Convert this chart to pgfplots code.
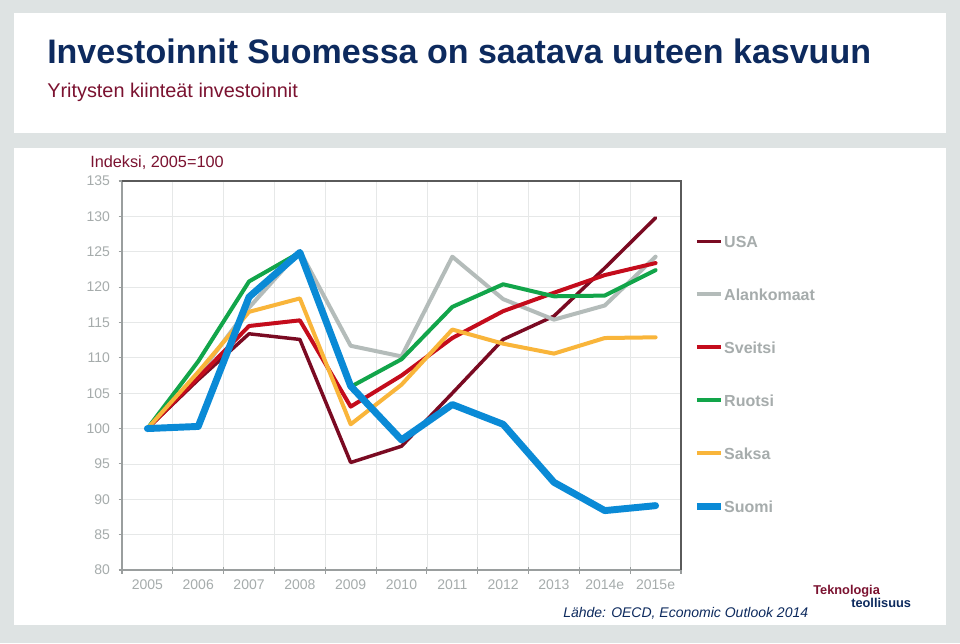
\documentclass[border=0pt]{standalone}
\usepackage{fontspec}
\setmainfont{Liberation Sans}
\usepackage{pgfplots}
\pgfplotsset{compat=1.18}

\definecolor{bgc}{HTML}{DEE3E3}
\definecolor{navy}{HTML}{0D2A5E}
\definecolor{maroon}{HTML}{7B1230}
\definecolor{tickc}{HTML}{A6ACAC}
\definecolor{gridc}{HTML}{E6E8E8}
\definecolor{axisc}{HTML}{9A9E9E}
\definecolor{topc}{HTML}{5A5A5A}
\definecolor{cusa}{HTML}{7A0A22}
\definecolor{cned}{HTML}{B4BCBA}
\definecolor{csui}{HTML}{C40C1C}
\definecolor{cswe}{HTML}{12A54A}
\definecolor{cger}{HTML}{F9B53A}
\definecolor{cfin}{HTML}{0A8AD6}

\begin{document}
\begin{tikzpicture}
% page: 960x643 px, 1px = 0.75pt
\fill[bgc] (0,0) rectangle (720pt,-482.25pt);
\useasboundingbox (0,0) rectangle (720pt,-482.25pt);
\fill[white] (10.5pt,-9.75pt) rectangle (709.5pt,-99.75pt);
\fill[white] (10.5pt,-111pt) rectangle (709.5pt,-468.75pt);

\begin{axis}[
    at={(91.5pt,-427.5pt)}, anchor=south west,
    scale only axis, width=419.25pt, height=291.75pt,
    xmin=-0.5, xmax=10.5, ymin=80, ymax=135,
    xtick={0,...,10},
    xticklabels={2005,2006,2007,2008,2009,2010,2011,2012,2013,2014e,2015e},
    minor xtick={-0.5,0.5,...,10.5},
    ytick={80,85,...,135},
    ymajorgrids=true, xminorgrids=true,
    grid style={draw=gridc, line width=0.6pt},
    minor grid style={draw=gridc, line width=0.6pt},
    tick pos=left, tick align=outside,
    major tick length=2.5pt, minor tick length=5.25pt,
    major x tick style={draw=none},
    minor x tick style={draw=axisc, line width=0.8pt, yshift=2.5pt},
    y tick style={draw=axisc, line width=0.8pt},
    axis line style={draw=axisc, line width=0.8pt},
    /pgf/number format/assume math mode=true,
    tick label style={font=\fontsize{10.5pt}{12pt}\selectfont, text=tickc},
    yticklabel style={xshift=-3pt},
    xticklabel style={yshift=-1pt},
    extra description/.code={\draw[topc, line width=1.1pt] (0,1) -- (1,1) -- (1,0);},
    legend cell align=left,
    legend image code/.code={\draw[#1, line cap=butt] (0pt,0pt) -- (18pt,0pt);},
    legend style={
        at={(1.0215,0.504)}, anchor=west,
        draw=none, fill=none, inner sep=0pt,
        font=\fontsize{12pt}{14pt}\selectfont\bfseries, text=tickc,
        nodes={inner sep=0pt, text height=9pt, text depth=0pt},
        row sep=30.75pt,
        /tikz/every odd column/.append style={column sep=0pt},
    },
    every axis plot/.append style={line join=round, line cap=round},
]
\addplot[color=cusa, line width=2.6pt] coordinates {
    (0,100) (1,106.9) (2,113.4) (3,112.6) (4,95.2) (5,97.5)
    (6,105.0) (7,112.6) (8,115.9) (9,122.7) (10,129.8)};
\addlegendentry{USA}
\addplot[color=cned, line width=3pt] coordinates {
    (0,100) (1,107.5) (2,117.1) (3,125.1) (4,111.7) (5,110.2)
    (6,124.3) (7,118.3) (8,115.4) (9,117.4) (10,124.3)};
\addlegendentry{Alankomaat}
\addplot[color=csui, line width=3pt] coordinates {
    (0,100) (1,107.2) (2,114.5) (3,115.3) (4,103.1) (5,107.5)
    (6,112.8) (7,116.6) (8,119.2) (9,121.7) (10,123.4)};
\addlegendentry{Sveitsi}
\addplot[color=cswe, line width=3pt] coordinates {
    (0,100) (1,109.5) (2,120.8) (3,124.9) (4,105.9) (5,109.8)
    (6,117.2) (7,120.4) (8,118.7) (9,118.8) (10,122.4)};
\addlegendentry{Ruotsi}
\addplot[color=cger, line width=3pt] coordinates {
    (0,100) (1,108.0) (2,116.5) (3,118.4) (4,100.6) (5,106.2)
    (6,114.0) (7,112.0) (8,110.6) (9,112.8) (10,112.9)};
\addlegendentry{Saksa}
\addplot[color=cfin, line width=5.2pt] coordinates {
    (0,100) (1,100.3) (2,118.6) (3,124.9) (4,106.0) (5,98.4)
    (6,103.4) (7,100.6) (8,92.4) (9,88.4) (10,89.1)};
\addlegendentry{Suomi}
\end{axis}

\node[anchor=base west, inner sep=0pt, text=navy,
      font=\fontsize{25.5pt}{30pt}\selectfont\bfseries]
    at (35.25pt,-47.25pt) {Investoinnit Suomessa on saatava uuteen kasvuun};
\node[anchor=base west, inner sep=0pt, text=maroon,
      font=\fontsize{14.9pt}{17pt}\selectfont]
    at (35.25pt,-72.75pt) {Yritysten kiinteät investoinnit};
\node[anchor=base west, inner sep=0pt, text=maroon,
      font=\fontsize{12.2pt}{14pt}\selectfont]
    at (67.5pt,-125.75pt) {Indeksi, 2005=100};
\node[anchor=base west, inner sep=0pt, text=navy,
      font=\fontsize{10.5pt}{13pt}\selectfont\itshape]
    at (422.25pt,-462.75pt) {Lähde: OECD, Economic Outlook 2014};
\node[anchor=base west, inner sep=0pt, text=maroon,
      font=\fontsize{9.6pt}{11pt}\selectfont\bfseries]
    at (609.75pt,-445.75pt) {Teknologia};
\node[anchor=base west, inner sep=0pt, text=navy,
      font=\fontsize{9.6pt}{11pt}\selectfont\bfseries]
    at (638.25pt,-455.5pt) {teollisuus};
\end{tikzpicture}
\end{document}
